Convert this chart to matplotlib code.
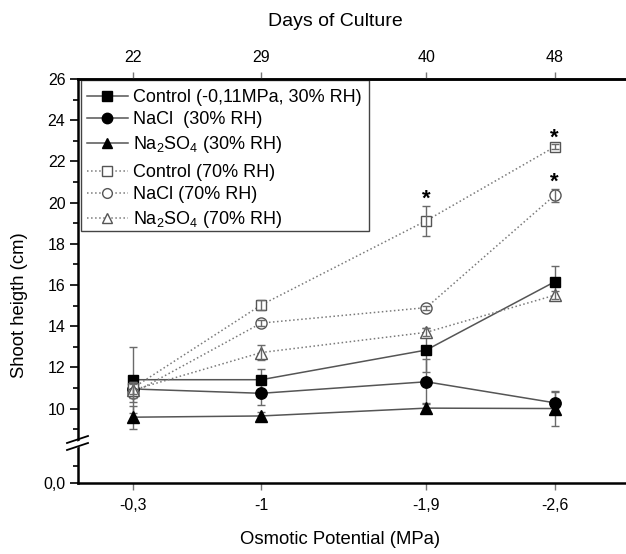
import matplotlib
matplotlib.use("Agg")
import matplotlib.pyplot as plt
from matplotlib.lines import Line2D
from matplotlib.patches import Rectangle, Polygon
from matplotlib.ticker import MultipleLocator, FixedLocator

plt.rcParams['font.family'] = ['Liberation Sans', 'DejaVu Sans']
plt.rcParams['mathtext.fontset'] = 'custom'
plt.rcParams['mathtext.rm'] = 'Liberation Sans'
plt.rcParams['mathtext.it'] = 'Liberation Sans:italic'

# ---- data ----
osmotic = [-0.3, -1.0, -1.9, -2.6]
osmotic_labels = ['-0,3', '-1', '-1,9', '-2,6']
days_labels = ['22', '29', '40', '48']

control30 = [11.40, 11.40, 12.84, 16.15]
control30_err = [1.60, 0.50, 1.05, 0.75]
nacl30 = [10.95, 10.74, 11.30, 10.28]
nacl30_err = [0.30, 0.55, 1.10, 0.50]
na2so4_30 = [9.58, 9.64, 10.02, 10.00]
na2so4_30_err = [0.55, 0.20, 0.25, 0.85]

control70 = [11.00, 15.03, 19.12, 22.70]
control70_err = [0.30, 0.25, 0.72, 0.12]
nacl70 = [10.75, 14.15, 14.90, 20.35]
nacl70_err = [0.45, 0.15, 0.10, 0.33]
na2so4_70 = [10.90, 12.72, 13.70, 15.50]
na2so4_70_err = [0.40, 0.35, 0.20, 0.20]

control70_sig = [False, False, True, True]
nacl70_sig = [False, False, False, True]

labels30 = ['Control (-0,11MPa, 30% RH)', 'NaCl  (30% RH)', r'Na$_2$SO$_4$ (30% RH)']
labels70 = ['Control (70% RH)', 'NaCl (70% RH)', r'Na$_2$SO$_4$ (70% RH)']

# ---- figure ----
W, H = 626, 554
fig = plt.figure(figsize=(W / 100, H / 100), dpi=100)

left_px, right_px = 78, 626
top_px, break_px, bottom_px = 79, 445, 483

def fx(px):
    return px / W

def fy(py):
    return 1 - py / H

ax = fig.add_axes([fx(left_px), fy(break_px), fx(right_px - left_px), (break_px - top_px) / H])
axb = fig.add_axes([fx(left_px), fy(bottom_px), fx(right_px - left_px), (bottom_px - break_px) / H], sharex=ax)

line_col = '#555555'
dot_col = '#7a7a7a'
err_col = '#6a6a6a'

def plot_series(a, y, e, marker, filled, ms, z):
    ls = '-' if filled else ':'
    lc = line_col if filled else dot_col
    a.errorbar(osmotic, y, yerr=e, fmt='none', ecolor=err_col, elinewidth=1.0,
               capsize=3, capthick=1.0, zorder=z + 1)
    a.plot(osmotic, y, linestyle=ls, color=lc, lw=1.1, zorder=z)
    if filled:
        a.plot(osmotic, y, linestyle='none', marker=marker, ms=ms, mfc='black',
               mec='black', zorder=z + 2)
    else:
        a.plot(osmotic, y, linestyle='none', marker=marker, ms=ms, mfc='white',
               mec='#555555', mew=1.0, zorder=z + 0.5)

plot_series(ax, control30, control30_err, 's', True, 7.2, 3)
plot_series(ax, nacl30, nacl30_err, 'o', True, 8.2, 3)
plot_series(ax, na2so4_30, na2so4_30_err, '^', True, 8.2, 3)
plot_series(ax, control70, control70_err, 's', False, 7.2, 6)
plot_series(ax, nacl70, nacl70_err, 'o', False, 8.0, 6)
plot_series(ax, na2so4_70, na2so4_70_err, '^', False, 8.4, 6)

for ys, es, sig in [(control70, control70_err, control70_sig), (nacl70, nacl70_err, nacl70_sig)]:
    for xv, yv, ev, s in zip(osmotic, ys, es, sig):
        if s:
            ax.annotate('*', xy=(xv, yv + ev), xytext=(0, -3), textcoords='offset points',
                        ha='center', va='bottom', fontsize=16, fontweight='bold')

# ---- axes limits and ticks ----
ax.set_xlim(0.0, -2.99)
ax.set_ylim(8.23, 26)
axb.set_ylim(0, 2.235)

ax.yaxis.set_minor_locator(MultipleLocator(1))
ax.set_yticks([10, 12, 14, 16, 18, 20, 22, 24, 26])
axb.set_yticks([0])
axb.set_yticklabels(['0,0'])
axb.yaxis.set_minor_locator(FixedLocator([1]))

axb.set_xticks(osmotic)
axb.set_xticklabels(osmotic_labels)
ax.tick_params(axis='x', which='both', bottom=False, labelbottom=False)

tick_fs = 11.5
for a in (ax, axb):
    a.spines['right'].set_visible(False)
    a.tick_params(axis='y', which='major', direction='out', length=6, width=1.2, labelsize=tick_fs, pad=3)
    a.tick_params(axis='y', which='minor', direction='out', length=3.5, width=1.2)
    a.spines['left'].set_linewidth(1.8)
ax.spines['bottom'].set_visible(False)
ax.spines['top'].set_linewidth(1.8)
axb.spines['top'].set_visible(False)
axb.spines['bottom'].set_linewidth(1.8)
axb.tick_params(axis='x', which='major', direction='out', length=5, width=1.0,
                color='#777777', labelsize=tick_fs, pad=6)
axb.tick_params(axis='x', which='minor', bottom=False)

top = ax.twiny()
top.set_xlim(ax.get_xlim())
top.set_xticks(osmotic)
top.set_xticklabels(days_labels)
top.tick_params(axis='x', direction='out', length=5, width=1.0, color='#777777', labelsize=tick_fs, pad=5)
for s in ('right', 'bottom', 'left'):
    top.spines[s].set_visible(False)
top.spines['top'].set_linewidth(1.8)

# ---- labels ----
fig.text(fx(335), fy(21), 'Days of Culture', ha='center', va='center', fontsize=14)
fig.text(fx(340), fy(539), 'Osmotic Potential (MPa)', ha='center', va='center', fontsize=13.3)
fig.text(fx(20), fy(305), 'Shoot heigth (cm)', ha='center', va='center', rotation=90, fontsize=13.3)

# ---- break marks ----
gap = Polygon([[fx(67), fy(445)], [fx(88), fy(438)], [fx(88), fy(444)], [fx(67), fy(451)]],
              closed=True, transform=fig.transFigure, facecolor='white', edgecolor='none', zorder=20)
fig.add_artist(gap)
for dy in (0, 7):
    fig.add_artist(Line2D([fx(67), fx(88)], [fy(443 + dy), fy(436 + dy)], transform=fig.transFigure,
                          color='black', lw=1.3, zorder=21))

# ---- legend ----
h30 = [Line2D([], [], color=line_col, ls='-', lw=1.1, marker=m, ms=ms, mfc='black', mec='black')
       for m, ms in [('s', 6.5), ('o', 7.5), ('^', 7.5)]]
h70 = [Line2D([], [], color=dot_col, ls=':', lw=1.1, marker=m, ms=ms, mfc='white', mec='#555555')
       for m, ms in [('s', 6.5), ('o', 7), ('^', 7.5)]]
leg_kw = dict(frameon=False, fontsize=13, handlelength=2.25, handletextpad=0.3,
              labelspacing=0.3, borderpad=0.0, borderaxespad=0.0, loc='upper left')
axw = right_px - left_px
axh = break_px - top_px
l1 = ax.legend(h30, labels30, bbox_to_anchor=((87 - left_px) / axw, 1 - (89 - top_px) / axh), **leg_kw)
ax.add_artist(l1)
l2 = ax.legend(h70, labels70, bbox_to_anchor=((87 - left_px) / axw, 1 - (164 - top_px) / axh), **leg_kw)
l1.set_zorder(30)
l2.set_zorder(30)
frame = Rectangle(((81 - left_px) / axw, 1 - (231 - top_px) / axh), (369 - 81) / axw, (231 - 80) / axh,
                  transform=ax.transAxes, facecolor='white', edgecolor='#444444', lw=1.0, zorder=25)
ax.add_patch(frame)

fig.savefig('out.png', dpi=100)
